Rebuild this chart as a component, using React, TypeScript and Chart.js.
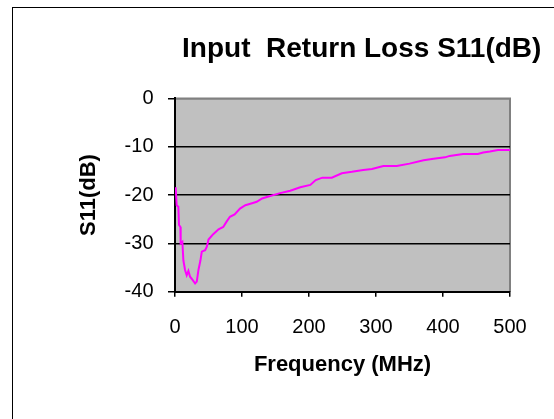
import React, { useEffect, useRef } from "react";
import { Chart, registerables } from "chart.js";

Chart.register(...registerables);

const freqMHz = [1, 2.5, 5, 6, 8, 8.5, 11, 12.5, 15, 17.5, 20, 22.5, 26.5, 30, 32.5, 35, 38, 40, 45, 47.5, 50, 57, 65, 72, 77, 82, 89, 97, 105, 115, 122, 130, 142, 157, 172, 187, 202, 210, 220, 234, 249, 264, 281, 294, 311, 331, 350, 371, 386, 403, 410, 430, 452, 460, 470, 482, 500];
const s11dB = [-18.4, -22.1, -22.4, -26.2, -26.6, -30, -29.7, -33.5, -35.5, -36.6, -35.7, -36.9, -37.6, -38.3, -37.9, -35.5, -33.5, -31.7, -31.4, -30.7, -29.2, -28.1, -27.1, -26.6, -25.5, -24.5, -24, -22.8, -22.1, -21.7, -21.4, -20.7, -20.2, -19.6, -19.1, -18.4, -17.9, -16.9, -16.4, -16.4, -15.5, -15.2, -14.8, -14.6, -14.0, -14.0, -13.5, -12.8, -12.5, -12.2, -11.9, -11.5, -11.5, -11.2, -11.0, -10.7, -10.7];

const xTicks = { min: 0, max: 500, step: 100 };
const yTicks = { min: -40, max: 0, step: 10 };

const titleText = "Input  Return Loss S11(dB)";
const xTitle = "Frequency (MHz)";
const yTitle = "S11(dB)";

const FONT = "'Liberation Sans', Arial, Helvetica, sans-serif";

const framePlugin = {
  id: "framePlugin",
  beforeDraw(chart: any) {
    const { ctx, chartArea } = chart;
    ctx.save();
    ctx.fillStyle = "#ffffff";
    ctx.fillRect(0, 0, chart.width, chart.height);
    ctx.strokeStyle = "#000000";
    ctx.lineWidth = 1;
    ctx.strokeRect(12.5, 7.5, 700, 600);
    const { left, top, right, bottom } = chartArea;
    ctx.fillStyle = "#C0C0C0";
    ctx.fillRect(left, top, right - left, bottom - top);
    ctx.strokeStyle = "#808080";
    ctx.lineWidth = 2;
    ctx.beginPath();
    ctx.moveTo(left, top);
    ctx.lineTo(right, top);
    ctx.lineTo(right, bottom);
    ctx.stroke();
    ctx.restore();
  },
};

export default function App() {
  const ref = useRef<HTMLCanvasElement | null>(null);

  useEffect(() => {
    if (!ref.current) return;
    const points = freqMHz.map((f, i) => ({ x: f, y: s11dB[i] }));
    const chart = new Chart(ref.current, {
      type: "scatter",
      data: {
        datasets: [
          {
            data: points,
            showLine: true,
            borderColor: "#FF00FF",
            backgroundColor: "#FF00FF",
            borderWidth: 2,
            pointRadius: 0,
            tension: 0,
          },
        ],
      },
      options: {
        animation: false,
        responsive: false,
        devicePixelRatio: 1,
        layout: { padding: { left: 0, top: 0, right: 12.6, bottom: 0 } },
        plugins: {
          legend: { display: false },
          tooltip: { enabled: false },
          title: {
            display: true,
            text: titleText,
            align: "end",
            color: "#000",
            font: { family: FONT, size: 28, weight: "bold" },
            padding: { top: 32.4, bottom: 32.4 },
          },
        },
        scales: {
          x: {
            type: "linear",
            position: "bottom",
            min: xTicks.min,
            max: xTicks.max,
            afterFit: (s: any) => {
              s.height = 127.3;
            },
            ticks: {
              stepSize: xTicks.step,
              color: "#000",
              padding: 18.8,
              maxRotation: 0,
              font: { family: FONT, size: 20 },
            },
            grid: {
              drawOnChartArea: false,
              drawTicks: true,
              tickLength: 5,
              color: "#000",
              lineWidth: 1.5,
            },
            border: { display: true, color: "#000", width: 2 },
            title: {
              display: true,
              text: xTitle,
              color: "#000",
              font: { family: FONT, size: 22, weight: "bold" },
              padding: { top: 0, bottom: 40.8 },
            },
          },
          y: {
            type: "linear",
            position: "left",
            min: yTicks.min,
            max: yTicks.max,
            afterFit: (s: any) => {
              s.width = 175;
            },
            ticks: {
              stepSize: yTicks.step,
              color: "#000",
              padding: 14.5,
              font: { family: FONT, size: 20 },
            },
            grid: {
              drawTicks: true,
              tickLength: 7,
              lineWidth: 1.5,
              color: (c: any) => (c.tick && c.tick.value === 0 ? "#808080" : "#000"),
              tickColor: "#000",
            },
            border: { display: true, color: "#000", width: 2 },
            title: {
              display: true,
              text: yTitle,
              color: "#000",
              font: { family: FONT, size: 22, weight: "bold" },
              padding: { top: 75.8, bottom: 0 },
            },
          },
          yRight: {
            type: "linear",
            position: "right",
            display: true,
            afterFit: (s: any) => {
              s.width = 31.4;
            },
            ticks: { display: false },
            grid: { display: false },
            border: { display: false },
          },
        },
      },
      plugins: [framePlugin],
    } as any);
    return () => chart.destroy();
  }, []);

  return (
    <div style={{ position: "fixed", left: 0, top: 0, width: 554, height: 419, background: "#fff" }}>
      <canvas ref={ref} width={554} height={419} style={{ width: 554, height: 419, display: "block" }} />
    </div>
  );
}
